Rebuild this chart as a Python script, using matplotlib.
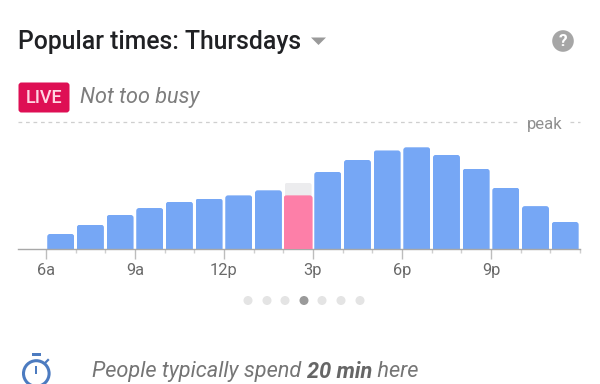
import matplotlib
matplotlib.use("Agg")
import matplotlib.pyplot as plt
from matplotlib.patches import FancyBboxPatch, Circle, Polygon, Rectangle

hours = [6, 7, 8, 9, 10, 11, 12, 13, 14, 15, 16, 17, 18, 19, 20, 21, 22, 23]
usual = [11.5, 18.8, 26.5, 32, 37, 39.5, 42, 46, 52, 60.5, 70, 77.5, 80, 74, 63, 48, 33.5, 21]
live_hour = 14
live_value = 42
tick_hours = [6, 9, 12, 15, 18, 21]
tick_labels = ["6a", "9a", "12p", "3p", "6p", "9p"]

BLUE = "#76A7F5"
PINK = "#FD7FA8"
GREY_BAR = "#ECECEE"
W, H = 600, 384

plt.rcParams["font.family"] = ["Roboto", "DejaVu Sans"]
fig = plt.figure(figsize=(W / 100, H / 100), dpi=100, facecolor="white")

# overlay in pixel coordinates
ov = fig.add_axes([0, 0, 1, 1])
ov.set_xlim(0, W)
ov.set_ylim(H, 0)
ov.axis("off")

# chart axes
L, R, T, B = 18, 580, 122, 248.5
ax = fig.add_axes([L / W, 1 - B / H, (R - L) / W, (B - T) / H])
ax.patch.set_alpha(0)
ax.set_xlim(5.06, 24.0)
ax.set_ylim(0, 100)
for s in ("top", "left", "right"):
    ax.spines[s].set_visible(False)
ax.spines["bottom"].set_color("#A8A8A8")
ax.spines["bottom"].set_linewidth(1)
ax.set_yticks([])
ax.set_xticks(tick_hours, tick_labels, fontsize=11.8, color="#6A6A6A")
ax.set_xticks(hours + [24], minor=True)
ax.tick_params(axis="x", which="major", length=7, width=1, color="#BDBDBD", pad=3.5)
ax.tick_params(axis="x", which="minor", length=3, width=1, color="#CFCFCF")

ax.plot([5.06, 21.98], [100, 100], ls=(0, (3, 3)), lw=0.9, color="#CFCFCF", clip_on=False)
ax.plot([23.66, 24.0], [100, 100], ls=(0, (3, 3)), lw=0.9, color="#CFCFCF", clip_on=False)
ov.text(545, 124, "peak", fontsize=12, color="#8F8F8F", ha="center", va="center")

x_per_px = (24.0 - 5.06) / (R - L)
y_per_px = 100 / (B - T)
aspect = y_per_px / x_per_px
width = 27 * x_per_px


def rounded(bars):
    for r in bars:
        clip = FancyBboxPatch((r.get_x(), -10), r.get_width(), r.get_height() + 10,
                              boxstyle=f"round,pad=0,rounding_size={2.8 * x_per_px}",
                              mutation_aspect=aspect, transform=ax.transData)
        r.set_clip_path(clip)


centers = [h + 0.5 for h in hours]
colors = [GREY_BAR if h == live_hour else BLUE for h in hours]
rounded(ax.bar(centers, usual, width=width, color=colors, linewidth=0, zorder=2))
rounded(ax.bar([live_hour + 0.5], [live_value], width=29 * x_per_px, color=PINK, linewidth=0, zorder=3))

# header
ov.text(18, 42, "Popular times: Thursdays", fontsize=17.8, fontweight="medium",
        color="#202124", ha="left", va="center")
ov.add_patch(Polygon([[311, 37.5], [326, 37.5], [318.5, 45]], closed=True, color="#9A9A9A", lw=0))
ov.add_patch(Circle((563, 41), 10.8, color="#A6A6A6", lw=0))
ov.text(563, 41.5, "?", fontsize=12.5, fontweight="bold", color="white", ha="center", va="center")

ov.add_patch(FancyBboxPatch((18.5, 82.5), 51, 30, boxstyle="round,pad=0,rounding_size=3",
                            color="#DE0F54", lw=0))
ov.text(44, 98, "LIVE", fontsize=13, fontweight="medium", color="#FFD5E2", ha="center", va="center")
ov.text(80, 98, "Not too busy", fontsize=15.6, style="italic", color="#7D7D7D",
        ha="left", va="center")

# pager dots
for i, x in enumerate([248, 267, 285, 304, 322, 341, 360]):
    ov.add_patch(Circle((x, 300.5), 4.5, color="#9A9A9A" if i == 3 else "#E4E4E4", lw=0))

# stopwatch
ov.add_patch(Circle((36.3, 373.5), 12.8, fill=False, ec="#4C7BC0", lw=2.2))
ov.add_patch(Rectangle((32, 353), 9, 2.5, color="#4C7BC0", lw=0))
ov.add_patch(Rectangle((35.2, 366), 2.2, 8, color="#4C7BC0", lw=0))
ov.plot([45, 48], [363, 360], color="#4C7BC0", lw=1.6)

# footer
FS = 15.7
Y = 371.5
t = ov.text(92, Y, "People typically spend ", fontsize=FS, style="italic", color="#757575",
            ha="left", va="center")
fig.canvas.draw()
x1 = t.get_window_extent().x1
t2 = ov.text(x1, Y, "20 min", fontsize=FS, style="italic", fontweight="bold", color="#666666",
             ha="left", va="center")
x2 = t2.get_window_extent().x1
ov.text(x2, Y, " here", fontsize=FS, style="italic", color="#757575", ha="left", va="center")

fig.savefig("out.png", dpi=100)
